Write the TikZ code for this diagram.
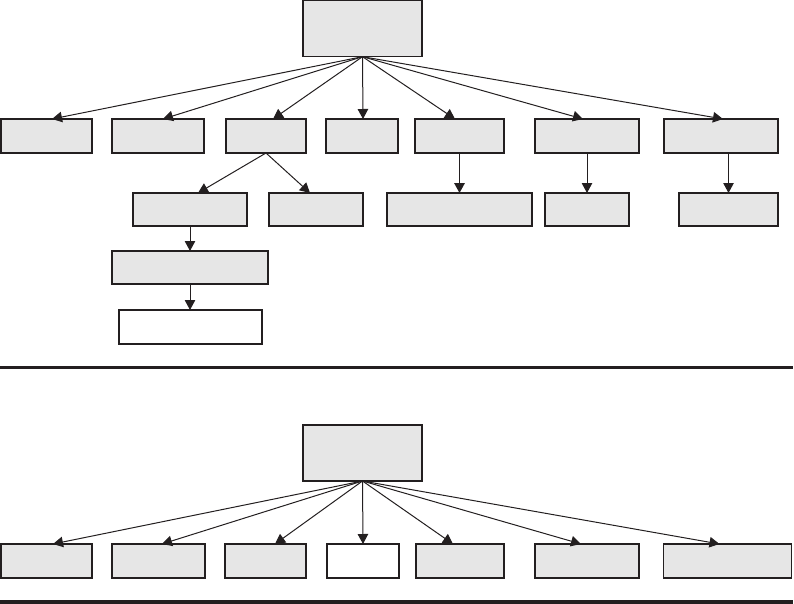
\documentclass[tikz,border=0pt]{standalone}
\usetikzlibrary{arrows.meta,calc}
\definecolor{boxgray}{HTML}{E6E6E6}
\definecolor{ink}{HTML}{231F20}
\tikzset{
  box/.style={draw=ink, fill=boxgray, line width=1.4pt, inner sep=0pt, outer sep=0pt, anchor=north west},
  whitebox/.style={box, fill=white},
  arr/.style={draw=ink, line width=1pt, -{Triangle[length=10pt,width=10.5pt]}},
  thickarr/.style={arr, line width=1.6pt},
  sep/.style={draw=ink, line width=3.6pt}
}
\begin{document}
\begin{tikzpicture}[x=1pt,y=-1pt]
\useasboundingbox (0,0) rectangle (794,604);
% ---------- top tree ----------
\node[box, minimum width=119pt, minimum height=56pt] (root) at (303,0.7) {};
\node[box, minimum width=91pt, minimum height=34pt] (b1) at (1,119) {};
\node[box, minimum width=92pt, minimum height=34pt] (b2) at (112,119) {};
\node[box, minimum width=80pt, minimum height=34pt] (b3) at (226,119) {};
\node[box, minimum width=72pt, minimum height=34pt] (b4) at (326,119) {};
\node[box, minimum width=89pt, minimum height=34pt] (b5) at (415,119) {};
\node[box, minimum width=104pt, minimum height=34pt] (b6) at (535,119) {};
\node[box, minimum width=114pt, minimum height=34pt] (b7) at (664,119) {};
\node[box, minimum width=114pt, minimum height=33pt] (ca) at (133,193) {};
\node[box, minimum width=94pt, minimum height=33pt] (cb) at (269,193) {};
\node[box, minimum width=145pt, minimum height=33pt] (cc) at (387,193) {};
\node[box, minimum width=84pt, minimum height=33pt] (cd) at (545,193) {};
\node[box, minimum width=99pt, minimum height=33pt] (ce) at (679,193) {};
\node[box, minimum width=156pt, minimum height=33pt] (r3) at (112,251) {};
\node[whitebox, minimum width=143pt, minimum height=34pt] (r4) at (119,310) {};
\draw[arr] (root.south) -- ([xshift=5.5pt]b1.north);
\draw[arr] (root.south) -- ([xshift=5pt]b2.north);
\draw[arr] (root.south) -- ([xshift=7pt]b3.north);
\draw[arr] (root.south) -- ([xshift=1pt]b4.north);
\draw[arr] (root.south) -- ([xshift=-4.5pt]b5.north);
\draw[arr] (root.south) -- ([xshift=-4pt]b6.north);
\draw[arr] (root.south) -- ([xshift=2pt]b7.north);
\draw[arr] (b3.south) -- ([xshift=8pt]ca.north);
\draw[arr] (b3.south) -- ([xshift=-6pt]cb.north);
\draw[thickarr] (b5.south) -- (b5.south |- cc.north);
\draw[arr] (b6.south) -- (b6.south |- cd.north);
\draw[arr] (ce.north |- b7.south) -- (ce.north);
\draw[arr] (ca.south) -- (ca.south |- r3.north);
\draw[arr] (r3.south) -- (r3.south |- r4.north);
% ---------- separator ----------
\coordinate (s1a) at (0,367.5);
\coordinate (s1b) at (793,367.5);
\draw[sep] (s1a) -- (s1b);
% ---------- bottom tree ----------
\node[box, minimum width=119pt, minimum height=56pt] (root2) at (303,425) {};
\node[box, minimum width=91pt, minimum height=34pt] (d1) at (1,544) {};
\node[box, minimum width=93pt, minimum height=34pt] (d2) at (112,544) {};
\node[box, minimum width=81pt, minimum height=34pt] (d3) at (225,544) {};
\node[whitebox, minimum width=72pt, minimum height=34pt] (d4) at (327,544) {};
\node[box, minimum width=88pt, minimum height=34pt] (d5) at (416,544) {};
\node[box, minimum width=104pt, minimum height=34pt] (d6) at (535,544) {};
\node[box, minimum width=128pt, minimum height=34pt] (d7) at (663.5,544) {};
\draw[arr] (root2.south) -- ([xshift=6.5pt]d1.north);
\draw[arr] (root2.south) -- ([xshift=3.5pt]d2.north);
\draw[arr] (root2.south) -- ([xshift=9.5pt]d3.north);
\draw[arr] (root2.south) -- ([xshift=0pt]d4.north);
\draw[arr] (root2.south) -- ([xshift=-7pt]d5.north);
\draw[arr] (root2.south) -- ([xshift=-6pt]d6.north);
\draw[arr] (root2.south) -- ([xshift=-8pt]d7.north);
\coordinate (s2a) at (0,602);
\coordinate (s2b) at (793,602);
\draw[sep] (s2a) -- (s2b);
\end{tikzpicture}
\end{document}
